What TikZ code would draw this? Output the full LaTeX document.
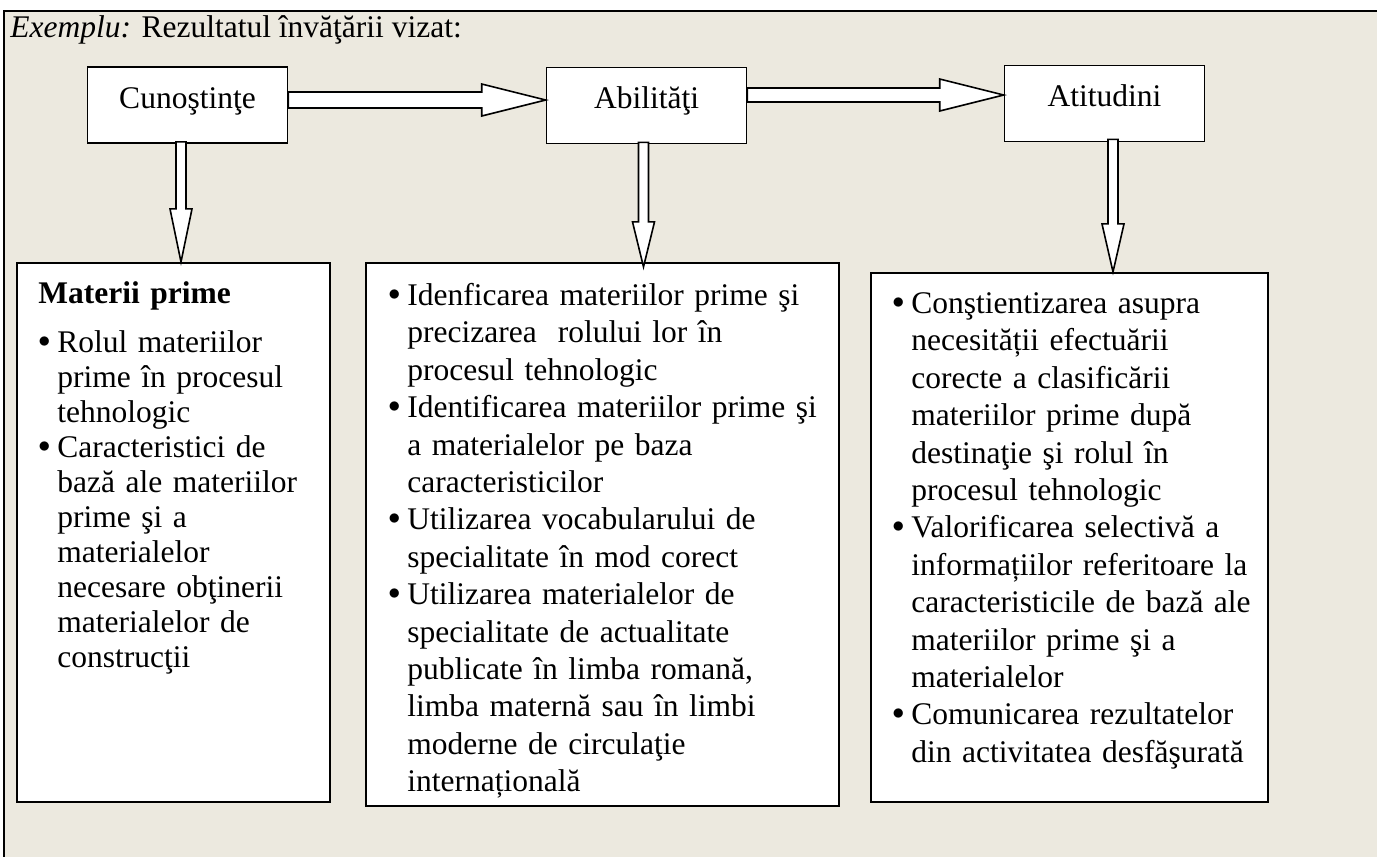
\documentclass[tikz,border=0pt]{standalone}
\usepackage{fontspec}
\setmainfont{Liberation Serif}
\usetikzlibrary{calc}
\definecolor{bgbeige}{HTML}{ECE9DF}

\tikzset{
	topbox/.style={draw, line width=0.8pt, fill=white, minimum width=100pt, minimum height=38pt, text height=11pt, text depth=8pt, inner sep=0pt},
	listbox/.style={draw, line width=1.1pt, fill=white, inner sep=0pt},
	listtext/.style={anchor=north west, inner sep=0pt},
	blockarrow/.style={draw, line width=0.8pt, fill=white, line join=miter}
}

% bullet item with hanging indent
\newcommand{\bitem}[1]{\noindent\hangindent=9.5pt\hangafter=1\makebox[9.5pt][l]{\raisebox{2.6pt}{\fontsize{13pt}{13pt}\selectfont$\bullet$}}#1\par}
\newcommand{\topstrut}{\rule{0pt}{11pt}}

% wide arrow pointing right: tail, tip, half shaft, head length
\newcommand{\rarrow}[4]{\draw[blockarrow] let \p1=(#1), \p2=(#2) in
	(\x1,\y2+#3) -- (\x2-#4,\y2+#3) -- (\x2-#4,\y2+8pt) -- (\x2,\y2)
	-- (\x2-#4,\y2-8pt) -- (\x2-#4,\y2-#3) -- (\x1,\y2-#3) -- cycle;}
% wide arrow pointing down: tail, tip, head length
\newcommand{\darrow}[3]{\draw[blockarrow] let \p1=(#1), \p2=(#2) in
	(\x1-2.5pt,\y1) -- (\x1-2.5pt,\y2+#3) -- (\x1-5.5pt,\y2+#3) -- (\x1,\y2)
	-- (\x1+5.5pt,\y2+#3) -- (\x1+2.5pt,\y2+#3) -- (\x1+2.5pt,\y1) -- cycle;}

\begin{document}
\begin{tikzpicture}[x=0.5pt, y=-0.5pt, font=\fontsize{15.75pt}{18.7pt}\selectfont]
	\useasboundingbox (0,0) rectangle (1377,857);
	
	% frame
	\path[fill=bgbeige] (4,10.5) rectangle (1377,857);
	\draw[line width=1pt] (4,857) -- (4,10.5) -- (1377,10.5);
	\node[anchor=base west, inner sep=0pt] (title) at (10,37) {\textit{Exemplu:} Rezultatul învăţării vizat:};
	
	% top boxes
	\node[topbox] (cun) at (187.5,105) {Cunoştinţe};
	\node[topbox] (abil) at (646.5,105.5) {Abilităţi};
	\node[topbox] (atit) at (1104.5,103.5) {Atitudini};
	
	% list boxes
	\node[listbox, minimum width=156.5pt, minimum height=269.5pt] (box1) at (173.5,532.5) {};
	\node[listbox, minimum width=236.5pt, minimum height=271.5pt] (box2) at (602.5,534.5) {};
	\node[listbox, minimum width=198.5pt, minimum height=264.5pt] (box3) at (1069.5,537.5) {};
	
	\node[listtext, text width=144pt, font=\fontsize{15.75pt}{17.5pt}\selectfont] (list1) at (38,281) {%
		\noindent\topstrut\textbf{Materii prime}\par\vspace{7pt}
		\bitem{Rolul materiilor\newline prime în procesul\newline tehnologic}
		\bitem{Caracteristici de\newline bază ale materiilor\newline prime şi a\newline materialelor\newline necesare obţinerii\newline materialelor de\newline construcţii}};
	
	\node[listtext, text width=223pt] (list2) at (388,283) {%
		\bitem{\topstrut Idenficarea materiilor prime şi\newline precizarea\ \ rolului lor în\newline procesul tehnologic}
		\bitem{Identificarea materiilor prime şi\newline a materialelor pe baza\newline caracteristicilor}
		\bitem{Utilizarea vocabularului de\newline specialitate în mod corect}
		\bitem{Utilizarea materialelor de\newline specialitate de actualitate\newline publicate în limba romană,\newline limba maternă sau în limbi\newline moderne de circulaţie\newline internațională}};
	
	\node[listtext, text width=186pt] (list3) at (892,291) {%
		\bitem{\topstrut Conştientizarea asupra\newline necesității efectuării\newline corecte a clasificării\newline materiilor prime după\newline destinaţie şi rolul în\newline procesul tehnologic}
		\bitem{Valorificarea selectivă a\newline informațiilor referitoare la\newline caracteristicile de bază ale\newline materiilor prime şi a\newline materialelor}
		\bitem{Comunicarea rezultatelor\newline din activitatea desfăşurată}};
	
	% arrows between top boxes
	\rarrow{cun.east}{$(abil.west)+(0,-5.5)$}{4pt}{32pt}
	\rarrow{abil.east}{$(atit.west)+(0,-8.5)$}{3.5pt}{32pt}
	
	% arrows down to the lists
	\darrow{$(cun.south)+(-6.5,-2)$}{box1.north}{26.5pt}
	\darrow{$(abil.south)+(-3,-2)$}{$(box2.north)+(0,5)$}{22.5pt}
	\darrow{$(atit.south)+(8.5,-3)$}{box3.north}{24pt}
\end{tikzpicture}
\end{document}
